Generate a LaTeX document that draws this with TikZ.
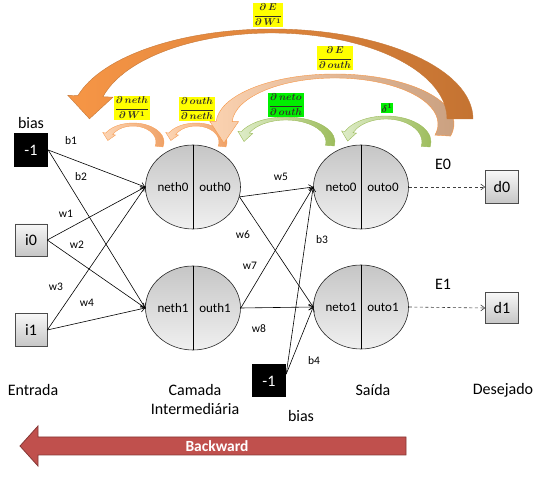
\documentclass[tikz,border=0pt]{standalone}
\usepackage{fontspec}
\setmainfont{Carlito}
\usepackage{amsmath}
\usepackage{tikz}
\usetikzlibrary{arrows.meta}
\usetikzlibrary{shapes.geometric}
\usetikzlibrary{calc}

\definecolor{bigleft}{RGB}{247,150,70}
\definecolor{bigright}{RGB}{196,115,50}
\definecolor{outhleft}{RGB}{251,210,176}
\definecolor{outhright}{RGB}{200,158,126}
\definecolor{peachleft}{RGB}{252,214,182}
\definecolor{peachright}{RGB}{238,158,98}
\definecolor{sageleft}{RGB}{222,236,200}
\definecolor{sageright}{RGB}{155,187,89}
\definecolor{backred}{RGB}{192,80,77}
\definecolor{markyellow}{RGB}{255,255,0}
\definecolor{markgreen}{RGB}{0,240,0}

% bent block arrow: style, centre, outer radii, inner radii, start, end, head
\newcommand{\bentarrow}[7]{%
  \coordinate (bo) at ($(#2)+(#6:#3)$);
  \coordinate (bi) at ($(#2)+(#6:#4)$);
  \coordinate (bm) at ($(bo)!0.5!(bi)$);
  \path[#1] ($(#2)+(#5:#3)$) arc (#5:#6:#3)
    -- ($(bo)!-0.4!(bi)$) -- ($(bm)!#7!90:(bo)$) -- ($(bi)!-0.4!(bo)$)
    -- (bi) arc (#6:#5:#4) -- cycle;
}

\tikzset{
  link/.style={-{Straight Barb[length=4pt,width=6pt]}, line width=0.6pt},
  target/.style={link, dash pattern=on 3pt off 2.5pt, draw=black!75},
  inbox/.style={draw=black!70, line width=0.6pt, top color=gray!6, bottom color=gray!45,
    minimum width=32pt, minimum height=32pt, inner sep=0pt, font=\fontsize{16}{18}\selectfont},
  biasbox/.style={fill=black, text=white, minimum width=34pt, minimum height=34pt,
    inner sep=0pt, font=\fontsize{16}{18}\selectfont},
  neuron/.style={ellipse, draw=black!85, line width=0.6pt, top color=gray!45, bottom color=gray!12,
    minimum width=95pt, minimum height=84pt, inner sep=0pt},
  half/.style={font=\fontsize{13}{15}\selectfont},
  wlabel/.style={font=\fontsize{11.5}{13}\selectfont},
  caption/.style={font=\fontsize{16}{19}\selectfont, align=center},
  yellowtag/.style={fill=markyellow, inner sep=0.6pt, text=black!85!olive,
    font=\fontsize{10}{11}\selectfont\boldmath},
  greentag/.style={yellowtag, fill=markgreen},
  bigshade/.style={left color=bigleft, right color=bigright, draw=bigleft!80!black, line width=0.4pt},
  outhshade/.style={left color=outhleft, right color=outhright, draw=bigleft, line width=0.4pt},
  peachshade/.style={left color=peachleft, right color=peachright, draw=bigleft!90, line width=0.4pt},
  sageshade/.style={left color=sageleft, right color=sageright, draw=sageright, line width=0.4pt},
}

\begin{document}
\begin{tikzpicture}[x=1pt,y=1pt]
\useasboundingbox (0,0) rectangle (555,477);

% layers
\node[biasbox] (biasA) at (31,327) {-1};
\node[caption] (biasAt) at (31,354) {bias};
\node[inbox] (i0) at (31,237) {i0};
\node[inbox, minimum height=33pt] (i1) at (31,147) {i1};

\node[neuron] (nh0) at (193,290) {};
\node[neuron] (nh1) at (193,169) {};
\node[neuron] (no0) at (361,290) {};
\node[neuron] (no1) at (361,170) {};
\foreach \n in {nh0,nh1,no0,no1}
  \draw[line width=0.6pt] (\n.north) -- (\n.south);
\node[half] (nh0a) at ($(nh0)+(-20,0)$) {neth0};
\node[half] (nh0b) at ($(nh0)+(22,0)$) {outh0};
\node[half] (nh1a) at ($(nh1)+(-20,0)$) {neth1};
\node[half] (nh1b) at ($(nh1)+(22,0)$) {outh1};
\node[half] (no0a) at ($(no0)+(-20,0)$) {neto0};
\node[half] (no0b) at ($(no0)+(22,0)$) {outo0};
\node[half] (no1a) at ($(no1)+(-20,0)$) {neto1};
\node[half] (no1b) at ($(no1)+(22,0)$) {outo1};

\node[inbox, minimum width=33pt, minimum height=33pt] (d0) at (502,290) {d0};
\node[inbox, minimum width=33pt, minimum height=31pt] (d1) at (502,169) {d1};
\node[biasbox, minimum height=33pt] (biasB) at (269,96) {-1};
\node[caption] (biasBt) at (301,61) {bias};

% weights
\draw[link] (biasA.east) -- (nh0.west);
\draw[link] (biasA.east) -- (nh1.west);
\draw[link] (i0.east) -- (nh0.west);
\draw[link] (i0.east) -- (nh1.west);
\draw[link] (i1.east) -- (nh0.west);
\draw[link] (i1.east) -- (nh1.west);
\draw[link] (nh0.-12) -- (no0.west);
\draw[link] (nh0.-12) -- (no1.west);
\draw[link] (nh1.east) -- (no0.west);
\draw[link] (nh1.east) -- (no1.west);
\draw[link] (biasB.22) -- (no0.west);
\draw[link] (biasB.22) -- (no1.west);
\draw[target] (no0.east) -- (d0.west);
\draw[target] (no1.east) -- (d1.west);

\node[wlabel] (b1) at (71,336) {b1};
\node[wlabel] (b2) at (81,300) {b2};
\node[wlabel] (w1) at (66,263) {w1};
\node[wlabel] (w2) at (77,232) {w2};
\node[wlabel] (w3) at (56,190) {w3};
\node[wlabel] (w4) at (87,174) {w4};
\node[wlabel] (w5) at (281,300) {w5};
\node[wlabel] (w6) at (243,242) {w6};
\node[wlabel] (w7) at (250,211) {w7};
\node[wlabel] (w8) at (259,148) {w8};
\node[wlabel] (b3) at (322,237) {b3};
\node[wlabel] (b4) at (314,116) {b4};
\node[caption] (e0) at (443,313) {E0};
\node[caption] (e1) at (443,193) {E1};

\node[caption] (entrada) at (33,87) {Entrada};
\node[caption] (camada) at (195,77) {Camada\\Intermediária};
\node[caption] (saida) at (373,87) {Saída};
\node[caption] (desejado) at (503,87) {Desejado};

% gradient arrows
\bentarrow{peachshade}{133,335}{31 and 19}{23 and 16}{-15}{152}{1.9}
\bentarrow{peachshade}{196,335}{31 and 19}{23 and 16}{-15}{152}{1.9}
\bentarrow{sageshade}{286,335}{49 and 25}{40 and 22}{-9}{156}{2.2}
\bentarrow{sageshade}{386,335}{45 and 26}{36 and 23}{-11}{156}{2.2}
\bentarrow{outhshade}{335,353}{119 and 50}{103 and 46}{-14}{177}{2.7}
\bentarrow{bigshade}{272,358}{201 and 90}{175 and 86}{0}{165}{1.8}

\node[yellowtag] (dew) at (268,462) {$\dfrac{\partial\, E}{\partial\, W^1}$};
\node[yellowtag] (deo) at (335,419) {$\dfrac{\partial\, E}{\partial\, outh}$};
\node[yellowtag] (dnw) at (132,369) {$\dfrac{\partial\, neth}{\partial\, W^1}$};
\node[yellowtag] (don) at (197,368) {$\dfrac{\partial\, outh}{\partial\, neth}$};
\node[greentag] (dno) at (286,372) {$\dfrac{\partial\, neto}{\partial\, outh}$};
\node[greentag] (delta) at (387,369) {$\delta^1$};

% backward
\path[fill=backred, draw=backred!70!black, line width=0.8pt]
  (20,31) -- (38,51) -- (38,40) -- (406,40) -- (406,22) -- (38,22) -- (38,11) -- cycle;
\node[text=white, font=\fontsize{15.5}{18}\bfseries] (back) at (217,31) {Backward};
\end{tikzpicture}
\end{document}
